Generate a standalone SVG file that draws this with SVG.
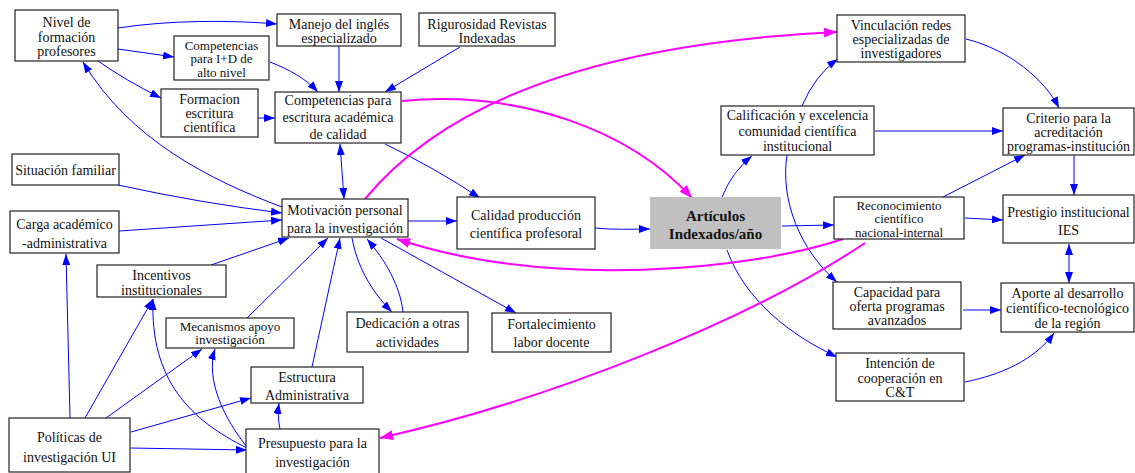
<svg xmlns="http://www.w3.org/2000/svg" width="1135" height="473" viewBox="0 0 1135 473">
<style>
.n rect{fill:#fff;stroke:#222;stroke-width:1.2}
.n text{font-family:"Liberation Serif","Times New Roman",serif;font-size:14px;fill:#111;text-anchor:middle}
.n text.s{font-size:13px}
.b{fill:none;stroke:#0000ff;stroke-width:1}
.m{fill:none;stroke:#ff00ff;stroke-width:2}
</style>
<defs>
<marker id="ab" markerUnits="userSpaceOnUse" markerWidth="12" markerHeight="9" refX="11" refY="4" orient="auto-start-reverse"><path d="M0,0 L11,4 L0,8 z" fill="#0000ff"/></marker>
<marker id="am" markerUnits="userSpaceOnUse" markerWidth="14" markerHeight="11" refX="13" refY="5" orient="auto"><path d="M0,0 L13,5 L0,10 z" fill="#ff00ff"/></marker>
</defs>
<rect width="1135" height="473" fill="#fff"/>
<g id="connectors">
<path class="b" marker-end="url(#ab)" d="M118,28 C170,20 230,20 277,24"/>
<path class="b" marker-end="url(#ab)" d="M118,49 L174,57"/>
<path class="b" marker-end="url(#ab)" d="M98,61 Q125,80 161,98"/>
<path class="b" marker-end="url(#ab)" d="M282,207 C210,180 130,140 83,62"/>
<path class="b" marker-end="url(#ab)" d="M270,62 C290,70 305,78 318,92"/>
<path class="b" marker-end="url(#ab)" d="M339,46 L339,92"/>
<path class="b" marker-end="url(#ab)" d="M460,47 L385,92"/>
<path class="b" marker-end="url(#ab)" d="M258,118 L275,118"/>
<path class="b" marker-start="url(#ab)" marker-end="url(#ab)" d="M340,144 L344,199"/>
<path class="b" marker-end="url(#ab)" d="M118,185 Q200,203 282,213"/>
<path class="b" marker-end="url(#ab)" d="M119,231 L282,220"/>
<path class="b" marker-end="url(#ab)" d="M385,144 Q435,168 480,198"/>
<path class="b" marker-end="url(#ab)" d="M408,221 L457,221"/>
<path class="b" marker-end="url(#ab)" d="M595,228 C615,230 630,229 650,229"/>
<path class="b" marker-end="url(#ab)" d="M722,197 Q732,172 752,156"/>
<path class="b" marker-end="url(#ab)" d="M782,226 L834,225"/>
<path class="b" marker-end="url(#ab)" d="M727,250 C745,300 790,335 837,357"/>
<path class="b" marker-end="url(#ab)" d="M802,106 Q815,75 838,59"/>
<path class="b" marker-end="url(#ab)" d="M875,131 L1003,131"/>
<path class="b" marker-end="url(#ab)" d="M787,155 C780,200 800,250 837,282"/>
<path class="b" marker-end="url(#ab)" d="M966,39 C1010,50 1045,80 1059,108"/>
<path class="b" marker-end="url(#ab)" d="M943,197 L1025,155"/>
<path class="b" marker-end="url(#ab)" d="M965,218 L1003,220"/>
<path class="b" marker-end="url(#ab)" d="M1074,155 L1074,195"/>
<path class="b" marker-start="url(#ab)" marker-end="url(#ab)" d="M1069,244 L1069,283"/>
<path class="b" marker-end="url(#ab)" d="M963,310 L1001,310"/>
<path class="b" marker-end="url(#ab)" d="M965,382 C1000,375 1035,360 1054,333"/>
<path class="b" marker-end="url(#ab)" d="M352,238 C357,265 370,290 392,312"/>
<path class="b" marker-end="url(#ab)" d="M403,312 C400,285 385,260 367,239"/>
<path class="b" marker-end="url(#ab)" d="M381,238 L516,313"/>
<path class="b" marker-end="url(#ab)" d="M211,265 L289,238"/>
<path class="b" marker-end="url(#ab)" d="M247,318 L328,238"/>
<path class="b" marker-end="url(#ab)" d="M312,367 L340,238"/>
<path class="b" marker-end="url(#ab)" d="M70,418 L66,254"/>
<path class="b" marker-end="url(#ab)" d="M85,418 L153,299"/>
<path class="b" marker-end="url(#ab)" d="M106,418 L202,349"/>
<path class="b" marker-end="url(#ab)" d="M131,432 L251,398"/>
<path class="b" marker-end="url(#ab)" d="M131,448 L247,450"/>
<path class="b" marker-end="url(#ab)" d="M247,448 C190,420 150,380 153,299"/>
<path class="b" marker-end="url(#ab)" d="M247,447 C225,420 205,380 215,349"/>
<path class="b" marker-end="url(#ab)" d="M280,429 C278,420 278,410 279,403"/>
<path class="m" marker-end="url(#am)" d="M402,101 C520,90 630,130 692,198"/>
<path class="m" marker-end="url(#am)" d="M365,199 C430,120 560,45 837,32"/>
<path class="m" marker-end="url(#am)" d="M843,239 C750,270 550,290 397,239"/>
<path class="m" marker-end="url(#am)" d="M865,243 C750,320 550,400 380,438"/>
</g>
<g id="nivel" class="n"><rect x="15" y="10" width="103" height="51"/><text x="66.5" y="27">Nivel de</text><text x="66.5" y="41.5">formación</text><text x="66.5" y="56">profesores</text></g>
<g id="manejo" class="n"><rect x="277" y="14" width="124" height="32"/><text x="339" y="29">Manejo del inglés</text><text x="339" y="43">especializado</text></g>
<g id="compID" class="n"><rect x="174" y="36" width="95" height="44"/><text class="s" x="221.5" y="49.5">Competencias</text><text class="s" x="221.5" y="63">para I+D de</text><text class="s" x="221.5" y="76.5">alto nivel</text></g>
<g id="formacion" class="n"><rect x="161" y="89" width="97" height="48"/><text x="209.5" y="104">Formacion</text><text x="209.5" y="118">escritura</text><text x="209.5" y="132">científica</text></g>
<g id="compEsc" class="n"><rect x="275" y="92" width="126" height="51"/><text x="338" y="105">Competencias para</text><text x="338" y="122">escritura académica</text><text x="338" y="139">de calidad</text></g>
<g id="situacion" class="n"><rect x="12" y="154" width="107" height="31"/><text x="65.5" y="175">Situación familiar</text></g>
<g id="motivacion" class="n"><rect x="282" y="199" width="126" height="38"/><text x="345" y="215">Motivación personal</text><text x="345" y="232.5">para la investigación</text></g>
<g id="carga" class="n"><rect x="10" y="211" width="109" height="42"/><text x="64.5" y="229">Carga académico</text><text x="64.5" y="247.5">-administrativa</text></g>
<g id="rigurosidad" class="n"><rect x="419" y="13" width="136" height="33"/><text x="487" y="29">Rigurosidad Revistas</text><text x="487" y="43">Indexadas</text></g>
<g id="calidad" class="n"><rect x="457" y="197" width="138" height="52"/><text x="526" y="220">Calidad producción</text><text x="526" y="238">científica profesoral</text></g>
<g id="articulos" class="n"><rect x="650" y="197" width="131" height="52" style="fill:#c0c0c0;stroke:none"/><text x="715.5" y="220.5" style="font-weight:bold;font-size:15px">Artículos</text><text x="715.5" y="239" style="font-weight:bold;font-size:15px">Indexados/año</text></g>
<g id="vinculacion" class="n"><rect x="837" y="15" width="128" height="47"/><text x="901" y="30">Vinculación redes</text><text x="901" y="44">especializadas de</text><text x="901" y="58">investigadores</text></g>
<g id="calificacion" class="n"><rect x="721" y="106" width="153" height="49"/><text x="797.5" y="120">Calificación y excelencia</text><text x="797.5" y="135.5">comunidad científica</text><text x="797.5" y="151">institucional</text></g>
<g id="criterio" class="n"><rect x="1003" y="108" width="131" height="47"/><text x="1068.5" y="123">Criterio para la</text><text x="1068.5" y="137">acreditación</text><text x="1068.5" y="151">programas-institución</text></g>
<g id="reconocimiento" class="n"><rect x="834" y="197" width="130" height="42"/><text class="s" x="899" y="209.5">Reconocimiento</text><text class="s" x="899" y="223">científico</text><text class="s" x="899" y="236.5">nacional-internal</text></g>
<g id="prestigio" class="n"><rect x="1003" y="195" width="131" height="48"/><text x="1068.5" y="216.5">Prestigio institucional</text><text x="1068.5" y="235">IES</text></g>
<g id="capacidad" class="n"><rect x="833" y="282" width="128" height="47"/><text x="897" y="296.5">Capacidad para</text><text x="897" y="311">oferta programas</text><text x="897" y="325">avanzados</text></g>
<g id="aporte" class="n"><rect x="1001" y="283" width="133" height="49"/><text x="1067.5" y="298">Aporte al desarrollo</text><text x="1067.5" y="313">científico-tecnológico</text><text x="1067.5" y="328">de la región</text></g>
<g id="intencion" class="n"><rect x="836" y="353" width="128" height="48"/><text x="900" y="368">Intención de</text><text x="900" y="382.5">cooperación en</text><text x="900" y="397">C&amp;T</text></g>
<g id="incentivos" class="n"><rect x="97" y="265" width="129" height="32"/><text x="161.5" y="280">Incentivos</text><text x="161.5" y="295">institucionales</text></g>
<g id="mecanismos" class="n"><rect x="166" y="318" width="128" height="30"/><text class="s" x="230" y="330.5">Mecanismos apoyo</text><text class="s" x="230" y="344">investigación</text></g>
<g id="estructura" class="n"><rect x="251" y="367" width="112" height="36"/><text x="307" y="382">Estructura</text><text x="307" y="400">Administrativa</text></g>
<g id="politicas" class="n"><rect x="9" y="418" width="121" height="54"/><text x="69.5" y="442">Políticas de</text><text x="69.5" y="461.5">investigación UI</text></g>
<g id="presupuesto" class="n"><rect x="246" y="429" width="133" height="46"/><text x="312.5" y="448">Presupuesto para la</text><text x="312.5" y="466.5">investigación</text></g>
<g id="dedicacion" class="n"><rect x="347" y="312" width="121" height="40"/><text x="407.5" y="328">Dedicación a otras</text><text x="407.5" y="347">actividades</text></g>
<g id="fortalecimiento" class="n"><rect x="492" y="313" width="119" height="39"/><text x="551.5" y="329">Fortalecimiento</text><text x="551.5" y="347">labor docente</text></g>
</svg>
